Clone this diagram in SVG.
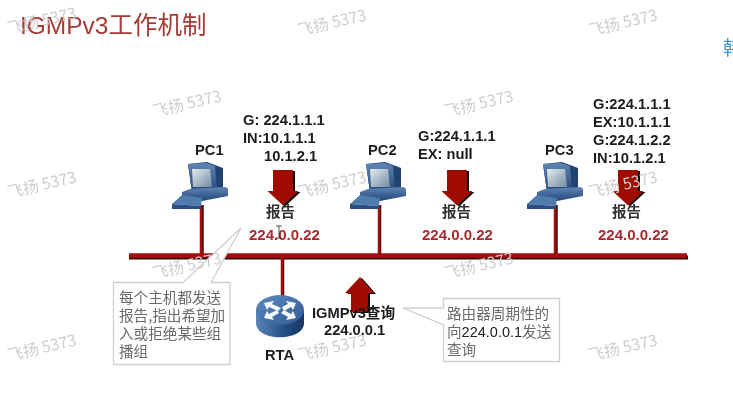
<svg xmlns="http://www.w3.org/2000/svg" width="733" height="400" viewBox="0 0 733 400">
<style>
text{font-family:"Liberation Sans","Noto Sans CJK SC",sans-serif}
.b{font-size:14.700px;font-weight:700;fill:#1c1c1c}
.r{font-size:15px;font-weight:700;fill:#a82a2e}
.cn{font-family:"Noto Sans CJK SC",sans-serif;font-size:14.500px;font-weight:700;fill:#333}
.note{font-family:"Noto Sans CJK SC",sans-serif;font-size:14.600px;fill:#6a6a6a}
.nn{font-family:"Liberation Sans",sans-serif;font-size:14.500px;fill:#222;font-weight:400}
.box{fill:#fff;stroke:#cfcfcf;stroke-width:1.300}
.wm{font-family:"Noto Sans CJK SC",sans-serif;font-size:15.800px;fill:#cdcdcd}
.red{stroke:#a80f0a;fill:none}
.sh{stroke:#3a0a08;fill:none}
</style>
<defs>
<filter id="soft" x="0" y="0" width="100%" height="100%"><feGaussianBlur stdDeviation="0.350"/></filter>
<linearGradient id="blue" x1="0" y1="0" x2="0" y2="1"><stop offset="0" stop-color="#5f86b4"/><stop offset="1" stop-color="#23467a"/></linearGradient>
<linearGradient id="scr" x1="0" y1="0" x2="1" y2="1"><stop offset="0" stop-color="#e6ecef"/><stop offset="1" stop-color="#6f8ba2"/></linearGradient>
<linearGradient id="rt" x1="0" y1="0" x2="1" y2="0"><stop offset="0" stop-color="#5c86bb"/><stop offset=".6" stop-color="#234d85"/><stop offset="1" stop-color="#17355f"/></linearGradient>
<linearGradient id="rtop" x1="0" y1="0" x2="1" y2="1"><stop offset="0" stop-color="#5f8ac0"/><stop offset="1" stop-color="#2f5a94"/></linearGradient>
<g id="pc">
<path d="M-12 -40 L7 -42 L23 -36 V-14 L-8 -12 Z" fill="#21426f"/>
<path d="M-12 -40 L7 -41 L15 -38 L17 -13 L-8 -12 Z" fill="url(#blue)"/>
<path d="M-8 -35 H10 L12 -17 H-7 Z" fill="url(#scr)"/>
<path d="M-18 -12 L-10 -15 L26 -17 L28 -15 V-8 L2 -3 L-18 -6 Z" fill="url(#blue)"/>
<path d="M-28 0 L-18 -9 L2 -6 L1 2 Z" fill="#4f7bab"/>
<path d="M-28 0 L1 2 L1 5 H-28 Z" fill="#2b4f82"/>
</g>
<path id="dn" d="M-10 0 H10 V21 H15.500 L0 35.500 L-15.500 21 H-10 Z"/>
</defs>
<rect width="733" height="400" fill="#fff"/>
<g filter="url(#soft)">
<text x="20" y="34" font-size="24.500" fill="#a63a36">IGMPv3工作机制</text>
<text x="723" y="55" font-size="19" style="font-family:'Noto Sans CJK SC',sans-serif" fill="#3b97dc">韩</text>

<g id="connectors">
<path class="sh" stroke-width="4" d="M129 257.500H688"/>
<path class="sh" stroke-width="2.500" d="M202.500 205V256M380 205V256M556.500 205V256M283 256V298"/>
<path class="red" stroke-width="4.500" d="M129 255.500H687"/>
<path class="red" stroke-width="2.500" d="M201 205V256M379 205V256M555 205V256M282 256V298"/>
</g>

<g id="arrow-pc1"><use href="#dn" x="285" y="171" fill="#111"/><use href="#dn" x="283" y="170" fill="#a00d06"/></g>
<g id="arrow-pc2"><use href="#dn" x="459" y="171" fill="#111"/><use href="#dn" x="457" y="170" fill="#a00d06"/></g>
<g id="arrow-pc3"><use href="#dn" x="630" y="171" fill="#111"/><use href="#dn" x="628" y="170" fill="#a00d06"/></g>
<g id="arrow-query"><path d="M362 278 L376 294 H370 V313 H353 V294 H347 Z" fill="#111"/><path d="M360 277 L374 293 H368 V312 H351 V293 H345 Z" fill="#a00d06"/></g>

<g id="pc1"><use href="#pc" x="200" y="204"/><text class="b" x="195" y="155">PC1</text></g>
<g id="pc2"><use href="#pc" x="378" y="204"/><text class="b" x="368" y="155">PC2</text></g>
<g id="pc3"><use href="#pc" x="555" y="204"/><text class="b" x="545" y="155">PC3</text></g>

<g id="rta">
<path d="M256 310 V323 C256 342 304 342 304 323 V310 Z" fill="url(#rt)"/>
<ellipse cx="280" cy="310" rx="24" ry="15" fill="url(#rtop)"/>
<g fill="#f4f7fb">
<path d="M264 303 L274 301 L272 304 L281 308 L278 311 L269 307 L267 310 Z"/>
<path d="M296 303 L286 301 L288 304 L282 307 L284 311 L291 307 L293 310 Z"/>
<path d="M264 318 L274 320 L272 317 L279 313 L277 310 L269 314 L267 311 Z"/>
<path d="M296 318 L286 320 L288 317 L281 313 L284 310 L291 314 L293 311 Z"/>
</g>
<text class="b" x="265" y="360">RTA</text>
</g>

<g id="report1">
<text class="b" x="243" y="125">G: 224.1.1.1</text>
<text class="b" x="243" y="143">IN:10.1.1.1</text>
<text class="b" x="264" y="161">10.1.2.1</text>
<text class="cn" x="266" y="217">报告</text>
<text class="r" x="249" y="240">224.0.0.22</text>
<path d="M276 226h6M279 226v12M276 238h6" stroke="#333" stroke-width=".8" fill="none"/>
</g>
<g id="report2">
<text class="b" x="418" y="141">G:224.1.1.1</text>
<text class="b" x="418" y="159">EX: null</text>
<text class="cn" x="442" y="217">报告</text>
<text class="r" x="422" y="240">224.0.0.22</text>
</g>
<g id="report3">
<text class="b" x="593" y="109">G:224.1.1.1</text>
<text class="b" x="593" y="127">EX:10.1.1.1</text>
<text class="b" x="593" y="145">G:224.1.2.2</text>
<text class="b" x="593" y="163">IN:10.1.2.1</text>
<text class="cn" x="612" y="217">报告</text>
<text class="r" x="598" y="240">224.0.0.22</text>
</g>
<g id="query">
<text class="b" x="312" y="318">IGMPv3查询</text>
<text class="b" x="324" y="335">224.0.0.1</text>
</g>

<g id="note-hosts">
<path class="box" d="M113.500 282.500H183L241 228L211 282.500H230V364.500H113.500Z"/>
<text class="note"><tspan x="119" y="303">每个主机都发送</tspan><tspan x="119" y="321">报告,指出希望加</tspan><tspan x="119" y="339">入或拒绝某些组</tspan><tspan x="119" y="357">播组</tspan></text>
</g>
<g id="note-router">
<path class="box" d="M443.500 298.500H559.500V361.500H443.500V325L403 308H443.500Z"/>
<text class="note"><tspan x="447" y="319">路由器周期性的</tspan><tspan x="447" y="337">向<tspan class="nn">224.0.0.1</tspan>发送</tspan><tspan x="447" y="355">查询</tspan></text>
</g>

<g id="watermarks">
<text class="wm" transform="translate(9 34) rotate(-13)">飞扬 5373</text>
<text class="wm" transform="translate(299 36) rotate(-13)">飞扬 5373</text>
<text class="wm" transform="translate(590 36) rotate(-13)">飞扬 5373</text>
<text class="wm" transform="translate(154 117) rotate(-13)">飞扬 5373</text>
<text class="wm" transform="translate(446 117) rotate(-13)">飞扬 5373</text>
<text class="wm" transform="translate(9 198) rotate(-13)">飞扬 5373</text>
<text class="wm" transform="translate(299 198) rotate(-13)">飞扬 5373</text>
<text class="wm" transform="translate(590 198) rotate(-13)">飞扬 5373</text>
<text class="wm" transform="translate(154 279) rotate(-13)">飞扬 5373</text>
<text class="wm" transform="translate(446 279) rotate(-13)">飞扬 5373</text>
<text class="wm" transform="translate(9 361) rotate(-13)">飞扬 5373</text>
<text class="wm" transform="translate(299 361) rotate(-13)">飞扬 5373</text>
<text class="wm" transform="translate(590 361) rotate(-13)">飞扬 5373</text>
</g>
</g>
</svg>
